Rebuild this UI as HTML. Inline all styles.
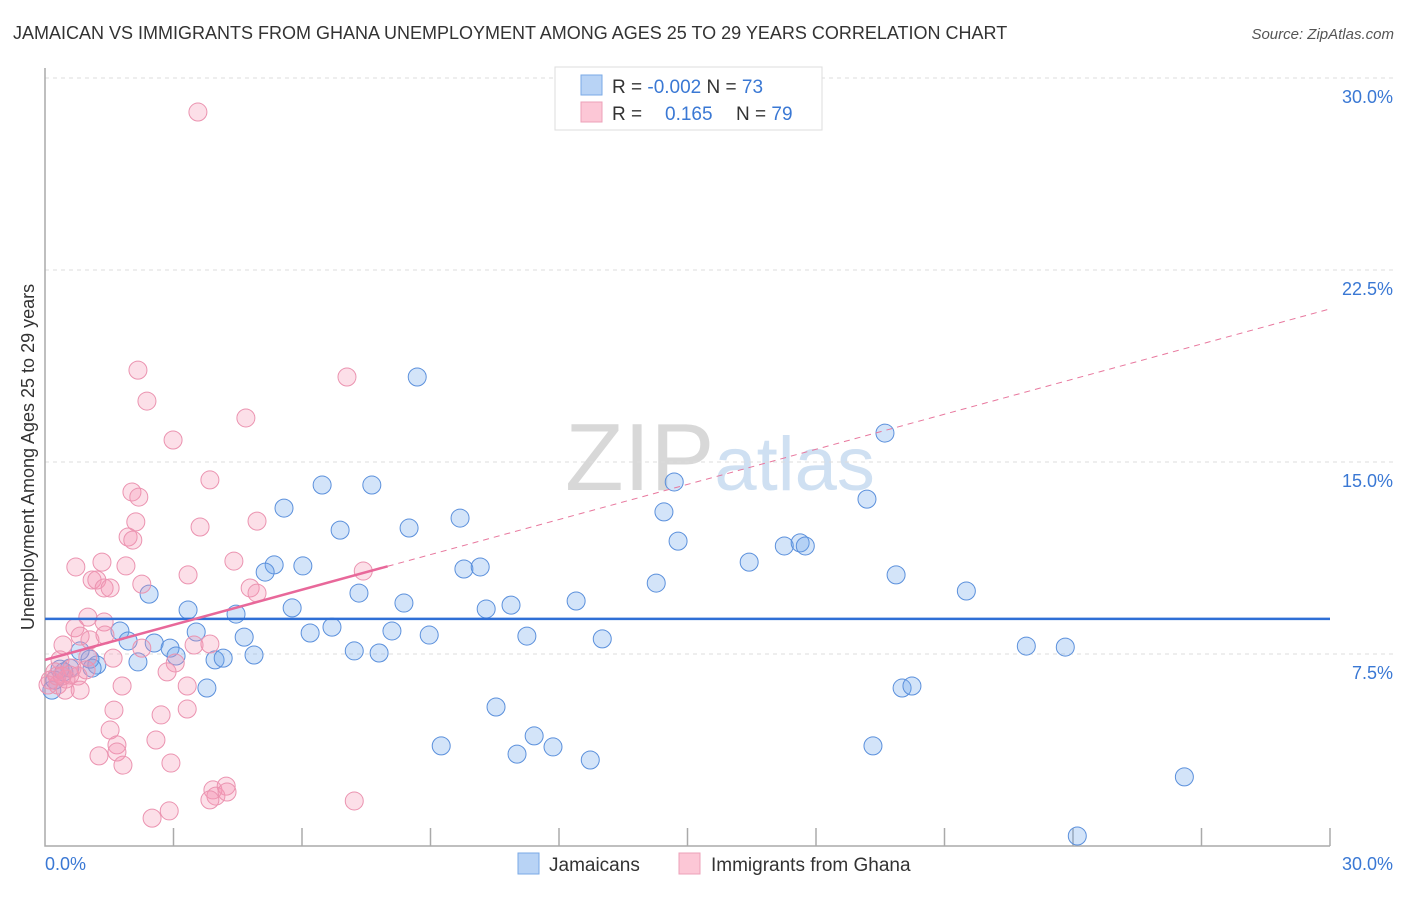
<!DOCTYPE html>
<html><head><meta charset="utf-8"><style>
body{margin:0;background:#fff;font-family:"Liberation Sans",sans-serif;}
svg text{font-family:"Liberation Sans",sans-serif;}
</style></head><body>
<svg id="chart" width="1406" height="892" viewBox="0 0 1406 892" xmlns="http://www.w3.org/2000/svg">
<text x="13" y="39" font-size="18" fill="#333">JAMAICAN VS IMMIGRANTS FROM GHANA UNEMPLOYMENT AMONG AGES 25 TO 29 YEARS CORRELATION CHART</text>
<text x="1394" y="39" font-size="15" fill="#555" text-anchor="end" font-style="italic">Source: ZipAtlas.com</text>
<text x="720" y="490" font-size="96" fill="#ddd" text-anchor="middle" font-family="Liberation Serif"><tspan fill="#d8d8d8">ZIP</tspan><tspan fill="#cfe0f2" font-family="Liberation Sans" font-size="76">atlas</tspan></text>
<text transform="translate(34,457) rotate(-90)" font-size="18" fill="#333" text-anchor="middle">Unemployment Among Ages 25 to 29 years</text>
<g id="grid"></g><g id="axes"></g><g id="marks"></g>
<g>
<rect x="555" y="67" width="267" height="63" fill="#fff" stroke="#ddd"/>
<rect x="581" y="75" width="21" height="20" fill="#b8d3f5" stroke="#7aaae6"/>
<rect x="581" y="102" width="21" height="20" fill="#fcc7d6" stroke="#eda0b8"/>
<text x="612" y="93" font-size="19" fill="#333">R = <tspan fill="#3a78d4">-0.002</tspan>   N = <tspan fill="#3a78d4">73</tspan></text>
<text x="612" y="120" font-size="19" fill="#333">R = <tspan fill="#3a78d4" x="665">0.165</tspan><tspan x="736">N = </tspan><tspan fill="#3a78d4">79</tspan></text>
</g>
<g>
<rect x="518" y="853" width="21" height="21" fill="#b8d3f5" stroke="#7aaae6"/>
<text x="549" y="871" font-size="19" fill="#333">Jamaicans</text>
<rect x="679" y="853" width="21" height="21" fill="#fcc7d6" stroke="#eda0b8"/>
<text x="711" y="871" font-size="19" fill="#333">Immigrants from Ghana</text>
</g>
</svg>
<script>
const yTicks=[7.5,15,22.5,30];
const yTickLabels=["7.5%","15.0%","22.5%","30.0%"];
const xTickLabels=["0.0%","30.0%"];
const blueX=[8.69,6.47,7.63,5.58,6.89,8.50,9.69,14.69,14.45,14.78,19.61,19.19,2.43,3.34,4.46,5.35,5.14,6.02,5.77,6.19,6.70,7.33,8.38,9.78,10.16,10.30,10.88,12.40,14.27,16.44,17.26,17.63,17.75,19.87,21.51,1.75,1.94,2.55,2.92,3.06,3.53,4.65,3.97,4.16,4.88,2.17,1.21,1.05,0.82,0.58,0.35,0.16,0.23,3.78,7.22,7.80,8.10,8.97,11.25,13.01,22.91,23.82,20.01,20.24,10.53,9.25,11.42,11.86,11.02,12.73,19.33,26.60,24.10,0.44,1.10];
const blueY=[18.32,14.10,14.10,13.20,12.34,12.42,12.81,14.22,13.05,11.91,16.13,13.55,9.84,9.22,9.06,10.98,10.70,10.94,9.30,8.32,8.55,9.88,9.49,10.82,10.90,9.26,9.41,9.57,10.27,11.09,11.72,11.84,11.72,10.59,9.96,8.40,8.01,7.93,7.73,7.42,8.36,8.16,7.27,7.34,7.46,7.19,7.07,7.30,7.62,6.95,6.91,6.09,6.48,6.17,7.62,7.54,8.40,8.24,8.20,8.09,7.81,7.77,6.17,6.25,5.43,3.91,4.30,3.87,3.59,3.36,3.91,2.70,0.39,6.80,6.95];
const pinkX=[3.57,2.17,7.05,2.38,4.69,2.99,3.85,2.03,2.19,3.62,2.12,4.95,1.94,2.05,4.41,1.33,0.72,1.89,1.10,1.21,2.26,3.34,4.79,4.95,1.38,1.52,7.43,1.00,1.38,0.70,0.82,1.05,1.40,3.48,3.85,2.26,0.42,1.59,1.00,3.04,2.85,1.80,3.32,1.61,3.32,2.71,1.52,2.59,1.68,1.68,1.26,1.82,2.94,3.92,3.99,4.23,4.25,3.85,2.90,2.50,7.22,0.35,0.23,0.12,0.30,0.47,0.58,0.77,0.96,0.49,0.07,0.28,0.82,0.63,0.40];
const pinkY=[28.67,18.59,18.32,17.38,16.72,15.86,14.30,13.83,13.63,12.46,12.66,12.69,12.07,11.95,11.13,11.09,10.90,10.94,10.39,10.39,10.23,10.59,10.08,9.88,10.08,10.08,10.74,8.94,8.75,8.52,8.20,8.05,8.24,7.85,7.89,7.73,7.85,7.34,7.38,7.15,6.80,6.25,6.25,5.31,5.35,5.12,4.53,4.14,3.95,3.67,3.52,3.16,3.24,2.19,1.95,2.34,2.11,1.80,1.37,1.09,1.76,7.27,6.80,6.48,6.29,6.09,6.68,6.64,6.88,6.52,6.29,6.64,6.09,6.95,6.64];
const blueTrend=[8.87,8.87];
const pinkTrend=[7.27,20.98];
const X0=45,X1=1330,Y0=846,PXY=25.6;
const sx=v=>X0+(X1-X0)*v/30;
const sy=v=>Y0-v*PXY;
const NS="http://www.w3.org/2000/svg";
function mk(tag,attrs,parent){const e=document.createElementNS(NS,tag);for(const k in attrs)e.setAttribute(k,attrs[k]);parent.appendChild(e);return e;}
const grid=document.getElementById('grid'),axes=document.getElementById('axes'),marks=document.getElementById('marks');
yTicks.forEach((t,i)=>{
 const l=mk('line',{x1:X0,x2:1394,y1:sy(t),y2:sy(t),stroke:'#ddd','stroke-dasharray':'4,4'},grid);
 
 
 const tx=mk('text',{x:1393,y:sy(t)+25,'font-size':18,fill:'#3a78d4','text-anchor':'end'},axes);
 tx.textContent=yTickLabels[i];
 
 
});
const ax=mk('path',{d:`M${X0},68 V${Y0} H${X1}`,stroke:'#aaa',fill:'none','stroke-width':1.5},axes);


for(let i=1;i<=10;i++){
 const t=mk('line',{x1:sx(i*3),x2:sx(i*3),y1:Y0,y2:Y0-18,stroke:'#aaa','stroke-width':1.5},axes);
 
 
}
[[0,'start',45],[30,'end',1393]].forEach((d,i)=>{
 const tx=mk('text',{x:d[2],y:870,'font-size':18,fill:'#3a78d4','text-anchor':d[1]},axes);
 tx.textContent=xTickLabels[i];
 
 
});
blueX.forEach((x,i)=>{
 const c=mk('circle',{cx:sx(x),cy:sy(blueY[i]),r:9,fill:'rgba(110,165,235,0.3)',stroke:'#5b90dc','stroke-width':1},marks);
 
 
});
pinkX.forEach((x,i)=>{
 const c=mk('circle',{cx:sx(x),cy:sy(pinkY[i]),r:9,fill:'rgba(245,150,180,0.3)',stroke:'#eb93b0','stroke-width':1},marks);
 
 
});
const bl=mk('line',{x1:sx(0),x2:sx(30),y1:sy(blueTrend[0]),y2:sy(blueTrend[1]),stroke:'#2f6fd6','stroke-width':2.5},marks);


const pv=x=>pinkTrend[0]+(pinkTrend[1]-pinkTrend[0])*x/30;
const pd=mk('line',{x1:sx(8),x2:sx(30),y1:sy(pv(8)),y2:sy(pv(30)),stroke:'#e8789e','stroke-width':1,'stroke-dasharray':'6,5'},marks);


const ps=mk('line',{x1:sx(0),x2:sx(8),y1:sy(pv(0)),y2:sy(pv(8)),stroke:'#e8689a','stroke-width':2.5},marks);


</script>
</body></html>
